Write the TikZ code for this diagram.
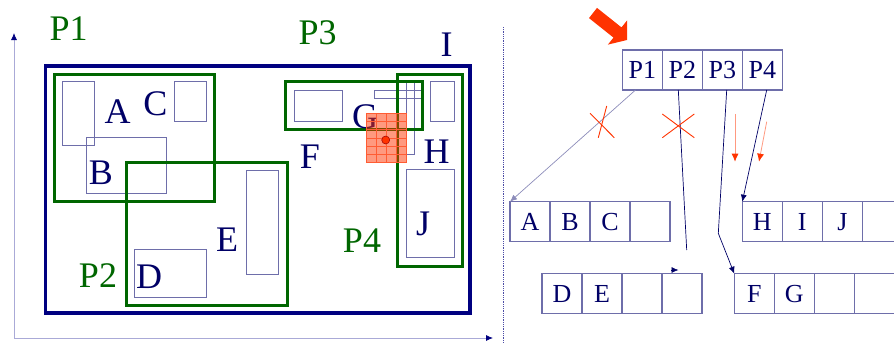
\documentclass[tikz,border=0pt]{standalone}
\usepackage{fontspec}
\setmainfont{Liberation Serif}
\usetikzlibrary{positioning,arrows.meta,calc}
\definecolor{boxnavy}{RGB}{0,0,128}
\definecolor{textnavy}{RGB}{0,0,102}
\definecolor{objline}{RGB}{110,110,170}
\definecolor{axisline}{RGB}{170,170,215}
\definecolor{pgreen}{RGB}{0,102,0}
\definecolor{ored}{RGB}{255,51,0}
\begin{document}
\begin{tikzpicture}[x=1pt, y=-1pt,
    >={Latex[length=7pt,width=6pt]},
    axis/.style={draw=axisline, line width=0.8pt, -{Latex[length=7pt,width=6pt,color=boxnavy]}},
    mbr/.style={draw=boxnavy, line width=3.5pt},
    obj/.style={draw=objline, line width=1pt},
    part/.style={draw=pgreen, line width=3pt},
    lbl/.style={text=textnavy, font=\fontsize{36}{36}\selectfont, anchor=base, inner sep=0pt},
    plbl/.style={lbl, text=pgreen},
    cell/.style={draw=objline, line width=1.2pt, minimum width=40pt, minimum height=40pt,
        inner sep=0pt, outer sep=0pt, text=textnavy, font=\fontsize{26}{26}\selectfont},
    link/.style={draw=textnavy, line width=0.7pt},
    cross/.style={draw=ored, line width=0.9pt},
    hint/.style={draw=ored!50, line width=0.8pt, -{Latex[length=8pt,width=7pt,color=ored]}}]
    \useasboundingbox (0,0) rectangle (894,343);

    % Draw axes and the separator
    \draw[axis] (14,338) -- (14,33);
    \draw[axis] (14,338) -- (493,338);
    \draw[draw=boxnavy!70, line width=0.8pt, densely dotted] (503,27) -- (503,343);

    % Draw the global bounding box
    \draw[mbr] (45.7,66) rectangle (470,313);

    % Draw the objects
    \draw[obj] (62.3,81.7) rectangle (94.3,145.7);
    \draw[obj] (174,81.7) rectangle (206.3,121.7);
    \draw[obj] (86.3,137.7) rectangle (166.3,193.7);
    \draw[obj] (246,170) rectangle (278.3,274);
    \draw[obj] (134.3,249.3) rectangle (206.3,297.7);
    \draw[obj] (294,90) rectangle (342.3,121.7);
    \draw[obj] (374,90) rectangle (422.3,98.3);
    \draw[obj] (406,81.7) rectangle (414.3,154.3);
    \draw[obj] (430.3,81.7) rectangle (454.3,121.7);
    \draw[obj] (406,169.3) rectangle (454.3,257.7);

    % Draw the partitions P1..P4
    \draw[part] (54,74) rectangle (214,201.7);
    \draw[part] (126,162) rectangle (287,305.7);
    \draw[part] (285.7,81.7) rectangle (422.7,129.3);
    \draw[part] (397.7,74) rectangle (462.3,266.7);

    % Label objects and partitions
    \node[lbl] (tA) at (117.5,123) {A};
    \node[lbl] (tB) at (101,184) {B};
    \node[lbl] (tC) at (155.5,115) {C};
    \node[lbl] (tD) at (149,288.3) {D};
    \node[lbl] (tE) at (227,251.7) {E};
    \node[lbl] (tF) at (310,168) {F};
    \node[lbl] (tG) at (365,128) {G};
    \node[lbl] (tH) at (436.5,163) {H};
    \node[lbl] (tI) at (446.7,56) {I};
    \node[lbl] (tJ) at (423,235) {J};
    \node[plbl] (tP1) at (68.7,40) {P1};
    \node[plbl] (tP2) at (98,287.7) {P2};
    \node[plbl] (tP3) at (317.7,44.3) {P3};
    \node[plbl] (tP4) at (362,252.3) {P4};

    % Query window with its grid and point
    \fill[ored, fill opacity=0.5] (366,113.3) rectangle (406.7,162.3);
    \foreach \i in {1,2,3}
        \draw[ored!80, line width=0.6pt] ({366+\i*10.17},113.3) -- ({366+\i*10.17},162.3);
    \foreach \j in {1,...,5}
        \draw[ored!80, line width=0.6pt] (366,{113.3+\j*8.17}) -- (406.7,{113.3+\j*8.17});
    \draw[ored!80, line width=0.6pt] (366,113.3) rectangle (406.7,162.3);
    \filldraw[fill=ored, draw=red!60!black, line width=0.5pt] (385.7,140) circle (4pt);

    % Search pointer
    \fill[ored] (589,18.1) -- (597,7.9) -- (621.5,27.4) -- (627.1,20.4) -- (627,40)
        -- (607.9,44.6) -- (613.5,37.6) -- cycle;

    % Root node
    \node[cell] (r1) at (642.3,70) {P1};
    \node[cell, right=0pt of r1] (r2) {P2};
    \node[cell, right=0pt of r2] (r3) {P3};
    \node[cell, right=0pt of r3] (r4) {P4};

    % Leaf nodes
    \node[cell] (a1) at (530,221.7) {A};
    \node[cell, right=0pt of a1] (a2) {B};
    \node[cell, right=0pt of a2] (a3) {C};
    \node[cell, right=0pt of a3] (a4) {};
    \node[cell] (d1) at (562,293.7) {D};
    \node[cell, right=0pt of d1] (d2) {E};
    \node[cell, right=0pt of d2] (d3) {};
    \node[cell, right=0pt of d3] (d4) {};
    \node[cell] (h1) at (762.3,221.7) {H};
    \node[cell, right=0pt of h1] (h2) {I};
    \node[cell, right=0pt of h2] (h3) {J};
    \node[cell, right=0pt of h3] (h4) {};
    \node[cell] (f1) at (754.3,293.7) {F};
    \node[cell, right=0pt of f1] (f2) {G};
    \node[cell, right=0pt of f2] (f3) {};
    \node[cell, right=0pt of f3] (f4) {};

    % Pointers from the root to the leaves
    \coordinate (p2end) at (686.7,250);
    \coordinate (p3bend) at (718.3,233.3);
    \draw[link, draw=textnavy!45, ->] ($(r1.south west)!0.33!(r1.south east)$) -- (a1.north west);
    \draw[link] ($(r2.south)+(-4,0)$) -- (p2end);
    \draw[link, ->] (671.4,270) -- (678.5,270);
    \draw[link, ->] ($(r3.south)+(4.4,0)$) -- (p3bend) -- (f1.north west);
    \draw[link, ->] ($(r4.south)+(4.4,0)$) -- (h1.north west);

    % Pruned and followed branches
    \draw[cross] (590,113.3) -- (614.3,137.7);
    \draw[cross] (606.7,106) -- (598.3,137.7);
    \draw[cross] (662.3,114) -- (694.3,137.7);
    \draw[cross] (662.3,137.7) -- (694.3,114);
    \draw[hint] (735,114) -- (735,161.7);
    \draw[hint] (766.7,121.7) -- (759,161.7);
\end{tikzpicture}
\end{document}
